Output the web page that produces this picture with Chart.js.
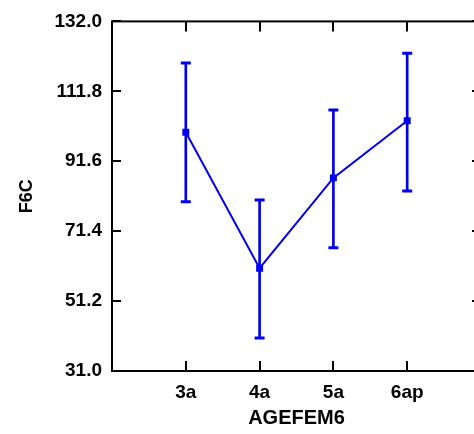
<!DOCTYPE html>
<html>
<head>
<meta charset="utf-8">
<script src="https://cdn.jsdelivr.net/npm/chart.js@4.4.0/dist/chart.umd.min.js"></script>
<style>
  html, body { margin: 0; padding: 0; background: #fff; overflow: hidden; }
  #wrap { width: 474px; height: 434px; overflow: hidden; position: relative; }
  canvas { position: absolute; left: 0; top: 0; }
</style>
</head>
<body>
<div id="wrap"><canvas id="ageChart" width="490" height="434"></canvas></div>
<script>
// categories and values
const labels = ["3a", "4a", "5a", "6ap"];
const means = [100.0, 60.7, 86.8, 103.3];
const upper = [120.0, 80.4, 106.4, 122.8];
const lower = [79.9, 40.5, 66.6, 83.0];
const yTicks = [31.0, 51.2, 71.4, 91.6, 111.8, 132.0];
const xPositions = [1, 2, 3, 4];

const BLUE = "#0000ee";
const FONT = "'Liberation Sans', Arial, sans-serif";

// frame with inward ticks on all four sides
const framePlugin = {
  id: "frame",
  beforeDatasetsDraw(chart) {
    const { ctx, chartArea } = chart;
    const xs = chart.scales.x;
    const ys = chart.scales.y;
    ctx.save();
    ctx.strokeStyle = "#000";
    ctx.lineWidth = 2;
    ctx.strokeRect(chartArea.left, chartArea.top, chartArea.right - chartArea.left, chartArea.bottom - chartArea.top);
    ctx.beginPath();
    xs.ticks.forEach((t) => {
      const px = Math.round(xs.getPixelForValue(t.value));
      ctx.moveTo(px, chartArea.bottom);
      ctx.lineTo(px, chartArea.bottom - 10);
      ctx.moveTo(px, chartArea.top);
      ctx.lineTo(px, chartArea.top + 10);
    });
    ys.ticks.forEach((t) => {
      const py = Math.round(ys.getPixelForValue(t.value));
      ctx.moveTo(chartArea.left, py);
      ctx.lineTo(chartArea.left + 9, py);
      ctx.moveTo(chartArea.right, py);
      ctx.lineTo(chartArea.right - 9, py);
    });
    ctx.stroke();
    ctx.restore();
  },
};

const ctx = document.getElementById("ageChart");

new Chart(ctx, {
  type: "line",
  data: {
    datasets: [
      {
        label: "mean",
        data: xPositions.map((x, i) => ({ x: x, y: means[i] })),
        borderColor: BLUE,
        backgroundColor: BLUE,
        borderWidth: 2,
        pointStyle: "rect",
        pointRadius: 3.5,
        tension: 0,
        order: 0,
      },
      {
        type: "bar",
        label: "range",
        data: xPositions.map((x, i) => ({ x: x, y: [lower[i], upper[i]] })),
        backgroundColor: BLUE,
        barThickness: 2,
        order: 1,
      },
      {
        type: "scatter",
        label: "upper",
        data: xPositions.map((x, i) => ({ x: x, y: upper[i] })),
        pointStyle: "line",
        pointRadius: 5,
        borderColor: BLUE,
        borderWidth: 3,
        order: 1,
      },
      {
        type: "scatter",
        label: "lower",
        data: xPositions.map((x, i) => ({ x: x, y: lower[i] })),
        pointStyle: "line",
        pointRadius: 5,
        borderColor: BLUE,
        borderWidth: 3,
        order: 1,
      },
    ],
  },
  options: {
    responsive: false,
    animation: false,
    layout: { padding: { top: 14, right: 9, left: 0, bottom: 4 } },
    plugins: {
      legend: { display: false },
      tooltip: { enabled: false },
    },
    scales: {
      x: {
        type: "linear",
        min: 0,
        max: 5,
        offset: false,
        afterBuildTicks: (scale) => {
          scale.ticks = xPositions.map((v) => ({ value: v }));
        },
        afterFit: (scale) => {
          scale.height = 59;
        },
        grid: { display: false, drawTicks: false },
        border: { display: false },
        ticks: {
          padding: 10,
          color: "#000",
          font: { family: FONT, size: 19, weight: "bold" },
          callback: (v) => labels[xPositions.indexOf(v)] || "",
        },
        title: {
          display: true,
          text: "AGEFEM6",
          color: "#000",
          font: { family: FONT, size: 20, weight: "bold" },
          padding: { top: 0, bottom: 0 },
        },
      },
      y: {
        min: 31,
        max: 132,
        afterBuildTicks: (scale) => {
          scale.ticks = yTicks.map((v) => ({ value: v }));
        },
        afterFit: (scale) => {
          scale.width = 112;
        },
        grid: { display: false, drawTicks: false },
        border: { display: false },
        ticks: {
          padding: 10,
          color: "#000",
          font: { family: FONT, size: 19, weight: "bold" },
          callback: (v) => Number(v).toFixed(1),
        },
        title: {
          display: true,
          text: "F6C",
          color: "#000",
          font: { family: FONT, size: 18, weight: "bold" },
          padding: { top: 16, bottom: 0 },
        },
      },
    },
  },
  plugins: [framePlugin],
});
</script>
</body>
</html>
